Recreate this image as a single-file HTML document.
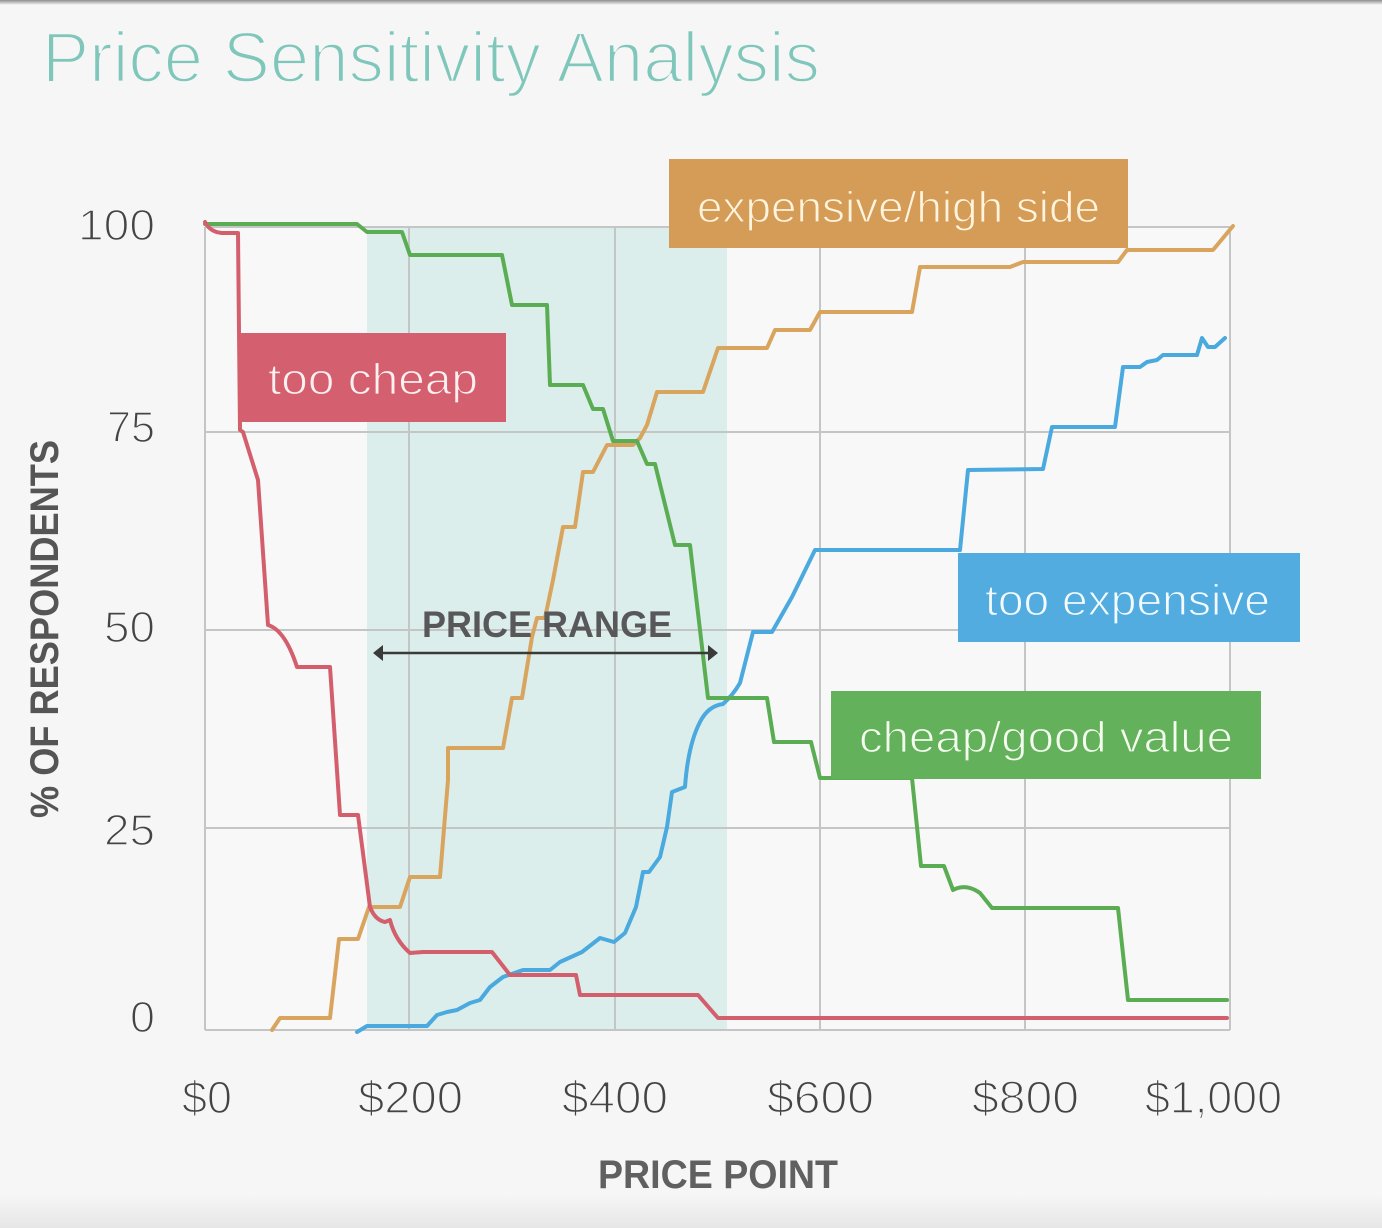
<!DOCTYPE html>
<html>
<head>
<meta charset="utf-8">
<style>
  html,body{margin:0;padding:0;background:#f6f6f6;}
  svg{display:block;}
  text{font-family:"Liberation Sans", sans-serif;}
</style>
</head>
<body>
<svg width="1382" height="1228" viewBox="0 0 1382 1228" xmlns="http://www.w3.org/2000/svg">
  <defs>
    <linearGradient id="topbar" x1="0" y1="0" x2="0" y2="1">
      <stop offset="0" stop-color="#8e8e8e"/>
      <stop offset="1" stop-color="#f6f6f6"/>
    </linearGradient>
    <linearGradient id="botbar" x1="0" y1="0" x2="0" y2="1">
      <stop offset="0" stop-color="#f6f6f6"/>
      <stop offset="1" stop-color="#e6e6e6"/>
    </linearGradient>
  </defs>
  <rect x="0" y="0" width="1382" height="1228" fill="#f6f6f6"/>
  <rect x="0" y="0" width="1382" height="5" fill="url(#topbar)"/>
  <rect x="0" y="1195" width="1382" height="33" fill="url(#botbar)"/>

  <!-- Title -->
  <text x="42" y="82" font-size="71" fill="#7fc6bb" stroke="#f6f6f6" stroke-width="2.4" textLength="778" lengthAdjust="spacingAndGlyphs">Price Sensitivity Analysis</text>

  <!-- Plot background -->
  <rect x="205" y="227" width="1025" height="803" fill="#f8f8f8"/>
  <!-- Shaded price range -->
  <rect x="367" y="228" width="360" height="802" fill="#dbeeeb"/>

  <!-- Grid -->
  <g stroke="#c4c6c6" stroke-width="2" fill="none">
    <line x1="205" y1="227" x2="1230" y2="227"/>
    <line x1="205" y1="432" x2="1230" y2="432"/>
    <line x1="205" y1="630" x2="1230" y2="630"/>
    <line x1="205" y1="828" x2="1230" y2="828"/>
    <line x1="205" y1="1030" x2="1230" y2="1030"/>
    <line x1="205" y1="227" x2="205" y2="1030"/>
    <line x1="409" y1="227" x2="409" y2="1030"/>
    <line x1="615" y1="227" x2="615" y2="1030"/>
    <line x1="820" y1="227" x2="820" y2="1030"/>
    <line x1="1025" y1="227" x2="1025" y2="1030"/>
    <line x1="1230" y1="227" x2="1230" y2="1030"/>
  </g>

  <!-- Curves -->
  <g fill="none" stroke-width="4" stroke-linejoin="round" stroke-linecap="round">
    <path stroke="#d9a45e" d="M272,1030 L280,1018 L330,1018 L339,939 L358,939 L369,907 L400,907 L410,877 L440,877 L448,780 L448,748 L503,748 L512,698 L522,698 L532,637 L537,618 L545,618 L553,580 L563,527 L575,527 L583,472 L593,472 L607,445 L633,445 L640,438 L647,425 L657,392 L703,392 L718,348 L767,348 L775,330 L810,330 L820,312 L912,312 L920,267 L1010,267 L1023,262 L1118,262 L1127,250 L1213,250 L1233,226"/>
    <path stroke="#4aa9de" d="M357,1032 L367,1026 L427,1026 L437,1015 L447,1012 L457,1010 L470,1003 L480,1000 L490,987 L503,977 L523,970 L550,970 L560,962 L582,952 L600,938 L614,942 L625,933 L636,907 L643,872 L649,872 L660,857 L667,827 L672,792 L685,787 Q688,745 700,722 Q708,706 723,704 Q733,695 740,683 L753,632 L772,632 L792,597 L815,550 L960,550 L963,520 L968,470 L1043,469 L1052,427 L1115,427 L1123,367 L1140,367 L1147,362 L1157,360 L1163,355 L1197,355 L1202,338 L1208,347 L1215,347 L1225,338"/>
    <path stroke="#5aad52" d="M205,224 L357,224 L367,232 L402,232 L410,255 L502,255 L512,305 L547,305 L550,385 L583,385 L593,409 L603,409 L613,441 L637,441 L647,464 L655,464 L675,545 L690,545 L708,698 L767,698 L774,742 L811,742 L820,778 L912,778 L921,866 L944,866 L953,890 Q966,883 980,893 L992,908 L1118,908 L1128,1000 L1227,1000"/>
    <path stroke="#d35f6d" d="M205,222 Q210,232 222,233 L238,233 L240,430 L243,432 L258,480 L268,625 Q285,630 297,667 L330,667 L340,815 L358,815 L370,907 Q375,920 385,922 L390,920 Q395,940 410,953 L423,952 L492,952 L510,975 L576,975 L580,995 L698,995 L718,1018 L1227,1018"/>
  </g>

  <!-- Price range annotation -->
  <text x="422" y="637" font-size="37" font-weight="bold" fill="#58585a" textLength="250" lengthAdjust="spacingAndGlyphs">PRICE RANGE</text>
  <line x1="380" y1="653" x2="710" y2="653" stroke="#3a3a3a" stroke-width="2.5"/>
  <polygon points="373,653 383,645 383,661" fill="#3a3a3a"/>
  <polygon points="718,653 708,645 708,661" fill="#3a3a3a"/>

  <!-- Labels -->
  <rect x="240" y="333" width="266" height="89" fill="#d4606f"/>
  <text x="268" y="394" font-size="44" fill="#fdf0f1" stroke="#d4606f" stroke-width="1.2" textLength="210" lengthAdjust="spacingAndGlyphs">too cheap</text>

  <rect x="669" y="159" width="459" height="89" fill="#d49c57"/>
  <text x="697" y="222" font-size="44" fill="#fff4de" stroke="#d49c57" stroke-width="1.2" textLength="403" lengthAdjust="spacingAndGlyphs">expensive/high side</text>

  <rect x="958" y="553" width="342" height="89" fill="#52acdf"/>
  <text x="985" y="615" font-size="44" fill="#f4fbff" stroke="#52acdf" stroke-width="1.2" textLength="285" lengthAdjust="spacingAndGlyphs">too expensive</text>

  <rect x="831" y="691" width="430" height="88" fill="#63b15a"/>
  <text x="859" y="752" font-size="44" fill="#f3fcee" stroke="#63b15a" stroke-width="1.2" textLength="374" lengthAdjust="spacingAndGlyphs">cheap/good value</text>

  <!-- Y tick labels -->
  <g font-size="44" fill="#444444" stroke="#f6f6f6" stroke-width="1.5" text-anchor="end">
    <text x="155" y="240" textLength="77" lengthAdjust="spacingAndGlyphs">100</text>
    <text x="155" y="442" textLength="48" lengthAdjust="spacingAndGlyphs">75</text>
    <text x="155" y="642" textLength="51" lengthAdjust="spacingAndGlyphs">50</text>
    <text x="155" y="845" textLength="51" lengthAdjust="spacingAndGlyphs">25</text>
    <text x="155" y="1032" textLength="25" lengthAdjust="spacingAndGlyphs">0</text>
  </g>

  <!-- Y axis title -->
  <text transform="translate(58,818) rotate(-90)" font-size="40" font-weight="bold" fill="#555555" textLength="378" lengthAdjust="spacingAndGlyphs">% OF RESPONDENTS</text>

  <!-- X tick labels -->
  <g font-size="45" fill="#444444" stroke="#f6f6f6" stroke-width="1.5">
    <text x="182" y="1113" textLength="50" lengthAdjust="spacingAndGlyphs">$0</text>
    <text x="358" y="1113" textLength="105" lengthAdjust="spacingAndGlyphs">$200</text>
    <text x="562" y="1113" textLength="106" lengthAdjust="spacingAndGlyphs">$400</text>
    <text x="767" y="1113" textLength="107" lengthAdjust="spacingAndGlyphs">$600</text>
    <text x="972" y="1113" textLength="107" lengthAdjust="spacingAndGlyphs">$800</text>
    <text x="1145" y="1113" textLength="137" lengthAdjust="spacingAndGlyphs">$1,000</text>
  </g>

  <!-- X axis title -->
  <text x="598" y="1188" font-size="40" font-weight="bold" fill="#606060" textLength="240" lengthAdjust="spacingAndGlyphs">PRICE POINT</text>
</svg>
</body>
</html>
